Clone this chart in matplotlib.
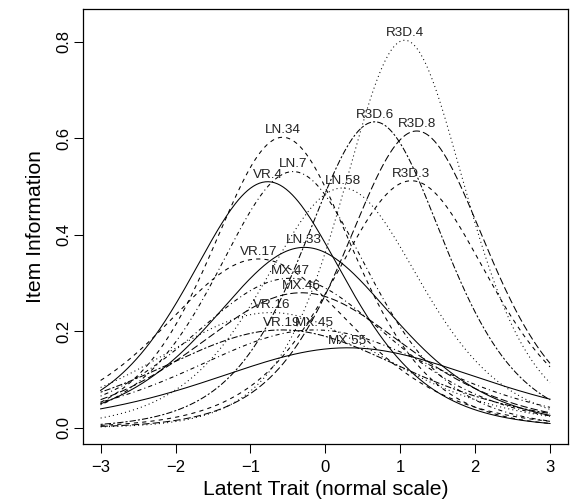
import numpy as np
import matplotlib
matplotlib.use("Agg")
import matplotlib.pyplot as plt

plt.rcParams['font.family'] = ['Liberation Sans', 'DejaVu Sans']

# item names, peak location (difficulty) and peak information
items = ['VR.4', 'VR.16', 'VR.17', 'VR.19', 'LN.7', 'LN.33', 'LN.34', 'LN.58',
         'MX.45', 'MX.46', 'MX.47', 'MX.55', 'R3D.3', 'R3D.4', 'R3D.6', 'R3D.8']
difficulty = [-0.77, -0.72, -0.89, -0.58, -0.43, -0.28, -0.57, 0.23,
              -0.14, -0.32, -0.47, 0.30, 1.15, 1.06, 0.66, 1.22]
peak_info = [0.510, 0.239, 0.350, 0.203, 0.531, 0.374, 0.602, 0.497,
             0.203, 0.280, 0.310, 0.166, 0.512, 0.803, 0.634, 0.615]
line_type = ['solid', 'dotted', 'dashed', 'twodash', 'dotdash', 'solid', 'dashed', 'dotted',
             'dotdash', 'longdash', 'dotdash', 'solid', 'dashed', 'dotted', 'twodash', 'longdash']

# R style dash patterns
R_LTY = {
    'solid': '-',
    'dashed': (0, (4, 4)),
    'dotted': (0, (1, 3)),
    'dotdash': (0, (1, 3, 4, 3)),
    'longdash': (0, (7, 3)),
    'twodash': (0, (2, 2, 6, 2)),
}

theta = np.linspace(-3, 3, 301)

fig = plt.figure(figsize=(5.74, 5.04), dpi=100)
ax = fig.add_axes([0.144, 0.1185, 0.8455, 0.863])

for name, b, pk, lt in zip(items, difficulty, peak_info, line_type):
    # 2PL item information: a^2 P (1 - P), peak = a^2 / 4
    a = 2 * np.sqrt(pk)
    p = 1 / (1 + np.exp(-a * (theta - b)))
    info = a ** 2 * p * (1 - p)
    ax.plot(theta, info, color='black', lw=0.75, linestyle=R_LTY[lt])
    ax.annotate(name, (b, pk), xytext=(0, 3), textcoords='offset points',
                ha='center', va='baseline', fontsize=9.7, color='#222222')

ax.set_xlim(-3.24, 3.24)
ax.set_ylim(-0.0338, 0.867)
ax.set_xticks([-3, -2, -1, 0, 1, 2, 3])
ax.set_yticks([0.0, 0.2, 0.4, 0.6, 0.8])
ax.set_yticklabels(['0.0', '0.2', '0.4', '0.6', '0.8'], rotation=90, va='center')
ax.tick_params(direction='out', length=6.5, width=0.75, labelsize=12)
ax.tick_params(axis='x', pad=4.5)
ax.tick_params(axis='y', pad=1.5)
for s in ax.spines.values():
    s.set_linewidth(0.9)
ax.set_xlabel('Latent Trait (normal scale)', fontsize=15.2, labelpad=4)
ax.set_ylabel('Item Information', fontsize=15.2, labelpad=8)

fig.savefig('out.png', dpi=100)
